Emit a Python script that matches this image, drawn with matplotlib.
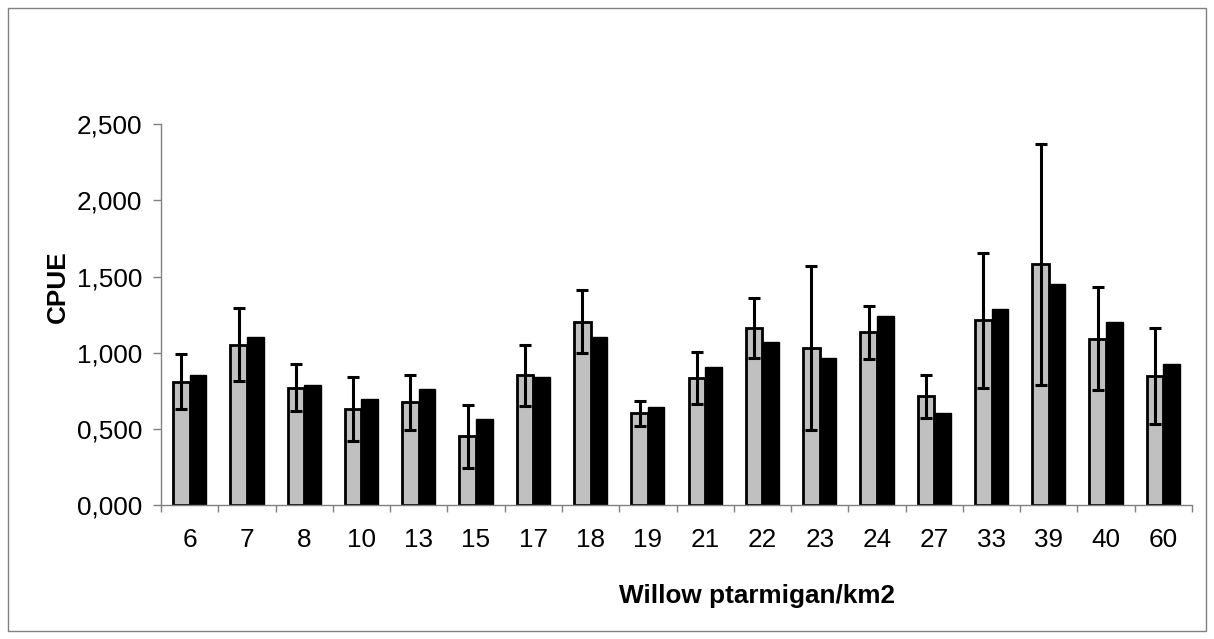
import numpy as np
import matplotlib
matplotlib.use("Agg")
import matplotlib.pyplot as plt
from matplotlib.patches import Rectangle
from matplotlib.ticker import FuncFormatter, FixedLocator

plt.rcParams['font.family'] = ['Liberation Sans', 'DejaVu Sans']

density = ['6', '7', '8', '10', '13', '15', '17', '18', '19', '21', '22', '23',
           '24', '27', '33', '39', '40', '60']
cpue_obs = [0.811, 1.053, 0.771, 0.632, 0.675, 0.452, 0.852, 1.204, 0.603,
            0.833, 1.160, 1.031, 1.134, 0.715, 1.213, 1.580, 1.093, 0.850]
cpue_err = [0.181, 0.238, 0.153, 0.209, 0.181, 0.206, 0.198, 0.207, 0.081,
            0.169, 0.196, 0.539, 0.173, 0.142, 0.444, 0.790, 0.338, 0.314]
cpue_model = [0.852, 1.101, 0.787, 0.697, 0.763, 0.566, 0.841, 1.104, 0.645,
              0.907, 1.073, 0.966, 1.243, 0.605, 1.289, 1.453, 1.204, 0.927]

W, H = 1214, 639
FS = 18.8
fig = plt.figure(figsize=(W / 100, H / 100), dpi=100)
fig.patches.append(Rectangle((8 / W, 8 / H), 1 - 16 / W, 1 - 16 / H,
                             transform=fig.transFigure, fill=False,
                             edgecolor='#808080', linewidth=1.0))

ax = fig.add_axes([161 / W, 1 - 505.3 / H, (1192 - 161) / W, (505.3 - 124) / H])

x = np.arange(len(density))
bw = 0.29
ax.bar(x - bw / 2, cpue_obs, width=bw, color='#c0c0c0', edgecolor='black',
       linewidth=2.0, zorder=2)
ax.bar(x + bw / 2, cpue_model, width=bw, color='black', edgecolor='black',
       linewidth=1.0, zorder=2)
ax.errorbar(x - bw / 2, cpue_obs, yerr=cpue_err, fmt='none', ecolor='black',
            elinewidth=2.2, capsize=4.5, capthick=2.2, zorder=3)

ax.set_xlim(-0.5, len(density) - 0.5)
ax.set_ylim(0, 2.5)
ax.set_yticks(np.arange(0, 2.501, 0.5))
ax.yaxis.set_major_formatter(FuncFormatter(lambda v, p: f"{v:.3f}".replace('.', ',')))

ax.xaxis.set_major_locator(FixedLocator(np.arange(-0.5, len(density), 1.0)))
ax.xaxis.set_major_formatter(FuncFormatter(lambda v, p: ''))
ax.xaxis.set_minor_locator(FixedLocator(x))
ax.set_xticklabels(density, minor=True)
ax.tick_params(axis='x', which='minor', length=0, pad=16, labelsize=FS)
ax.tick_params(axis='x', which='major', length=5, width=1, color='#808080', direction='out')
ax.tick_params(axis='y', length=5.5, width=1, color='#808080', direction='out',
               labelsize=FS, pad=8)

for side in ['top', 'right']:
    ax.spines[side].set_visible(False)
for side in ['left', 'bottom']:
    ax.spines[side].set_color('#808080')
    ax.spines[side].set_linewidth(1.0)

fig.text(58 / W, 1 - 287 / H, 'CPUE', rotation=90, fontsize=FS,
         fontweight='bold', ha='center', va='center')
fig.text(757 / W, 1 - 603 / H, 'Willow ptarmigan/km2', fontsize=FS,
         fontweight='bold', ha='center', va='baseline')

fig.savefig('out.png', dpi=100)
